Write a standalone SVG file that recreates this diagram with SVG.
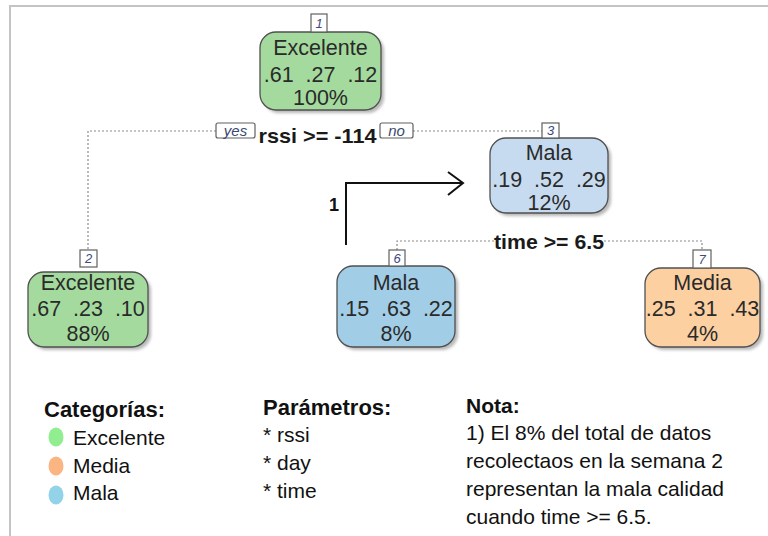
<svg xmlns="http://www.w3.org/2000/svg" width="768" height="536" viewBox="0 0 768 536">
  <style>
    .frame { stroke: #c4c4c4; stroke-width: 2; fill: none; }
    .box { stroke: #505050; stroke-width: 1.3; }
    .shadow { fill: #b8b8b8; filter: url(#soft); }
    .ntext { font-family: "Liberation Sans", Arial, sans-serif; font-size: 21.5px; fill: #2a2a2a; text-anchor: middle; }
    .num { fill: #ffffff; stroke: #606060; stroke-width: 1.2; }
    .numtext { font-family: "Liberation Sans", Arial, sans-serif; font-size: 13px; font-style: italic; fill: #3a4a80; text-anchor: middle; }
    .split { font-family: "Liberation Sans", Arial, sans-serif; font-size: 21px; font-weight: bold; fill: #1a1a1a; text-anchor: middle; }
    .yn { font-family: "Liberation Sans", Arial, sans-serif; font-size: 15px; font-style: italic; fill: #3a4a70; text-anchor: middle; }
    .dot { stroke: #8a8a8a; stroke-width: 1.2; stroke-dasharray: 2 2; fill: none; }
    .title { font-family: "Liberation Sans", Arial, sans-serif; font-size: 22px; font-weight: bold; fill: #111; }
    .body { font-family: "Liberation Sans", Arial, sans-serif; font-size: 21px; fill: #111; }
    .green { fill: #a4da9e; }
    .lblue { fill: #c6dbef; }
    .blue { fill: #a2cde6; }
    .orange { fill: #fdd0a2; }
  </style>
  <defs>
    <filter id="soft" x="-10%" y="-10%" width="130%" height="130%">
      <feGaussianBlur stdDeviation="1.5"/>
    </filter>
  </defs>

  <rect x="0" y="0" width="768" height="536" fill="#ffffff"/>
  <path class="frame" d="M10,536 V6 H768"/>

  <!-- connectors -->
  <g id="connectors">
    <path class="dot" d="M216,131 H88 V250"/>
    <path class="dot" d="M413,131 H551 V123"/>
    <path class="dot" d="M494,241 H397 V250"/>
    <path class="dot" d="M604,241 H702 V250"/>
    <g id="split-1">
      <rect class="num" x="216" y="123" width="39" height="15" rx="2"/>
      <text class="yn" x="235.5" y="136">yes</text>
      <text class="split" x="317.5" y="143" textLength="118" lengthAdjust="spacingAndGlyphs">rssi &gt;= -114</text>
      <rect class="num" x="380" y="123" width="33" height="15" rx="2"/>
      <text class="yn" x="396.5" y="136">no</text>
    </g>
    <text class="split" x="549" y="249" textLength="110" lengthAdjust="spacingAndGlyphs">time &gt;= 6.5</text>
  </g>

  <!-- node 1 -->
  <g id="node1">
    <rect class="shadow" x="263" y="35" width="121" height="78" rx="16"/>
    <rect class="box green" x="260" y="32" width="121" height="78" rx="16"/>
    <rect class="num" x="311" y="14" width="16" height="18"/>
    <text class="numtext" x="319" y="28">1</text>
    <text class="ntext" x="320.5" y="55">Excelente</text>
    <text class="ntext" x="320.5" y="82" xml:space="preserve">.61  .27  .12</text>
    <text class="ntext" x="320.5" y="105">100%</text>
  </g>

  <!-- node 3 -->
  <g id="node3">
    <rect class="shadow" x="493" y="141" width="118" height="75" rx="16"/>
    <rect class="box lblue" x="490" y="138" width="118" height="75" rx="16"/>
    <rect class="num" x="542" y="123" width="17" height="15"/>
    <text class="numtext" x="550.5" y="135">3</text>
    <text class="ntext" x="549" y="160">Mala</text>
    <text class="ntext" x="549" y="187" xml:space="preserve">.19  .52  .29</text>
    <text class="ntext" x="549" y="210">12%</text>
  </g>

  <!-- node 2 -->
  <g id="node2">
    <rect class="shadow" x="31" y="275" width="120" height="75" rx="16"/>
    <rect class="box green" x="28" y="272" width="120" height="75" rx="16"/>
    <rect class="num" x="80" y="250" width="17" height="17"/>
    <text class="numtext" x="88.5" y="263">2</text>
    <text class="ntext" x="88" y="290">Excelente</text>
    <text class="ntext" x="88" y="316" xml:space="preserve">.67  .23  .10</text>
    <text class="ntext" x="88" y="341">88%</text>
  </g>

  <!-- node 6 -->
  <g id="node6">
    <rect class="shadow" x="340" y="269" width="118" height="81" rx="16"/>
    <rect class="box blue" x="337" y="266" width="118" height="81" rx="16"/>
    <rect class="num" x="389" y="250" width="16" height="16"/>
    <text class="numtext" x="397" y="263">6</text>
    <text class="ntext" x="396" y="290">Mala</text>
    <text class="ntext" x="396" y="316" xml:space="preserve">.15  .63  .22</text>
    <text class="ntext" x="396" y="341">8%</text>
  </g>

  <!-- node 7 -->
  <g id="node7">
    <rect class="shadow" x="648" y="271" width="115" height="79" rx="16"/>
    <rect class="box orange" x="645" y="268" width="115" height="79" rx="16"/>
    <rect class="num" x="693" y="250" width="18" height="18"/>
    <text class="numtext" x="702" y="264">7</text>
    <text class="ntext" x="702.5" y="290">Media</text>
    <text class="ntext" x="702.5" y="316" xml:space="preserve">.25  .31  .43</text>
    <text class="ntext" x="702.5" y="341">4%</text>
  </g>

  <!-- annotation arrow -->
  <g id="annotation" stroke="#111" stroke-width="2" fill="none">
    <path d="M346,245 V183 H463"/>
    <path d="M448,172 L463,183 L448,195"/>
  </g>
  <text x="329" y="211" font-family="Liberation Sans, Arial, sans-serif" font-size="18" font-weight="bold" fill="#111">1</text>

  <!-- legend -->
  <g id="legend">
    <text class="title" x="44" y="417">Categorías:</text>
    <ellipse cx="56" cy="437" rx="7.5" ry="9.5" fill="#90ee90"/>
    <ellipse cx="56" cy="466" rx="7.5" ry="9.5" fill="#fbb583"/>
    <ellipse cx="56" cy="495" rx="7.5" ry="9.5" fill="#92d3ea"/>
    <text class="body" x="73" y="445">Excelente</text>
    <text class="body" x="73" y="473">Media</text>
    <text class="body" x="73" y="500">Mala</text>
  </g>

  <g id="params">
    <text class="title" x="263" y="415">Parámetros:</text>
    <text class="body" x="263" y="442">* rssi</text>
    <text class="body" x="263" y="470">* day</text>
    <text class="body" x="263" y="498">* time</text>
  </g>

  <g id="note">
    <text class="title" x="466" y="413" style="font-size:21px">Nota:</text>
    <text class="body" x="466" y="440">1) El 8% del total de datos</text>
    <text class="body" x="466" y="468">recolectaos en la semana 2</text>
    <text class="body" x="466" y="496">representan la mala calidad</text>
    <text class="body" x="466" y="524">cuando time &gt;= 6.5.</text>
  </g>
</svg>
